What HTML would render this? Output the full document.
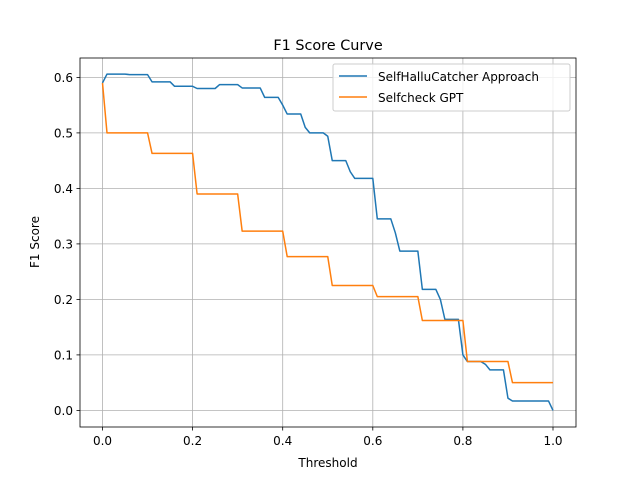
<!DOCTYPE html>
<html><head><meta charset="utf-8"><style>
body{margin:0;background:#fff}
svg{display:block;font-family:"DejaVu Sans","Liberation Sans",sans-serif}
</style></head><body>
<svg id="chart" width="640" height="480">
<rect width="640" height="480" fill="#fff"/>
<g id="grid"></g>
<g id="series"></g>
<rect x="80" y="58" width="496" height="369" fill="none" stroke="#000" stroke-width="0.8"/>
<g id="ticks" font-size="12" fill="#000"></g>
<text x="328" y="50" text-anchor="middle" font-size="14.4">F1 Score Curve</text>
<text x="328" y="467" text-anchor="middle" font-size="12">Threshold</text>
<text transform="translate(39,242) rotate(-90)" text-anchor="middle" font-size="12">F1 Score</text>
<g>
<rect x="333" y="64" width="237" height="47" rx="2" fill="#fff" fill-opacity="0.8" stroke="#ccc"/>
<line x1="339" y1="76" x2="367" y2="76" stroke="#1f77b4" stroke-width="1.5"/>
<text x="378" y="81" font-size="12">SelfHalluCatcher Approach</text>
<line x1="339" y1="97" x2="367" y2="97" stroke="#ff7f0e" stroke-width="1.5"/>
<text x="378" y="102" font-size="12">Selfcheck GPT</text>
</g>
</svg>
<script>
const blueX=[0,0.01,0.05,0.06,0.10,0.11,0.15,0.16,0.20,0.21,0.25,0.26,0.30,0.31,0.35,0.36,0.39,0.40,0.41,0.44,0.45,0.46,0.49,0.50,0.51,0.54,0.55,0.56,0.60,0.61,0.64,0.65,0.66,0.70,0.71,0.74,0.75,0.76,0.79,0.80,0.81,0.84,0.85,0.86,0.89,0.90,0.91,0.99,1.0];
const blueY=[0.59,0.606,0.606,0.605,0.605,0.592,0.592,0.584,0.584,0.580,0.580,0.587,0.587,0.581,0.581,0.564,0.564,0.55,0.534,0.534,0.51,0.50,0.50,0.494,0.45,0.45,0.43,0.418,0.418,0.345,0.345,0.32,0.287,0.287,0.218,0.218,0.20,0.164,0.164,0.10,0.088,0.088,0.083,0.073,0.073,0.022,0.017,0.017,0.0];
const orangeX=[0,0.01,0.10,0.11,0.20,0.21,0.30,0.31,0.40,0.41,0.50,0.51,0.60,0.61,0.70,0.71,0.80,0.81,0.90,0.91,1.0];
const orangeY=[0.59,0.5,0.5,0.463,0.463,0.39,0.39,0.323,0.323,0.277,0.277,0.225,0.225,0.205,0.205,0.162,0.162,0.088,0.088,0.05,0.05];
const xTicks=[0,0.2,0.4,0.6,0.8,1.0];
const xTickLabels=["0.0","0.2","0.4","0.6","0.8","1.0"];
const yTicks=[0,0.1,0.2,0.3,0.4,0.5,0.6];
const yTickLabels=["0.0","0.1","0.2","0.3","0.4","0.5","0.6"];
const NS="http://www.w3.org/2000/svg";
function sx(v){return 102.5+v*450.5;}
function sy(v){return 410.4-v*555;}
function mk(tag,attrs,parent){const e=document.createElementNS(NS,tag);for(const k in attrs)e.setAttribute(k,attrs[k]);parent.appendChild(e);return e;}
const grid=document.getElementById('grid'),ticks=document.getElementById('ticks'),series=document.getElementById('series');
xTicks.forEach((t,i)=>{
  const gl=mk('line',{x1:sx(t),x2:sx(t),y1:58,y2:427,stroke:'#b0b0b0','stroke-width':0.8},grid);
  
  
  mk('line',{x1:sx(t),x2:sx(t),y1:427,y2:430.5,stroke:'#000','stroke-width':0.8},ticks);
  const tx=mk('text',{x:sx(t),y:445,'text-anchor':'middle'},ticks);
  tx.textContent=xTickLabels[i];
  
  
});
yTicks.forEach((t,i)=>{
  const gl=mk('line',{x1:80,x2:576,y1:sy(t),y2:sy(t),stroke:'#b0b0b0','stroke-width':0.8},grid);
  
  
  mk('line',{x1:76.5,x2:80,y1:sy(t),y2:sy(t),stroke:'#000','stroke-width':0.8},ticks);
  const tx=mk('text',{x:73,y:sy(t)+4.5,'text-anchor':'end'},ticks);
  tx.textContent=yTickLabels[i];
  
  
});
function line(xs,ys,color,name){
  const p=mk('polyline',{points:xs.map((x,i)=>sx(x)+','+sy(ys[i])).join(' '),fill:'none',stroke:color,'stroke-width':1.5,'stroke-linejoin':'round'},series);
  
  
}
line(blueX,blueY,'#1f77b4','selfhallucatcher-line');
line(orangeX,orangeY,'#ff7f0e','selfcheck-gpt-line');
</script>
</body></html>
